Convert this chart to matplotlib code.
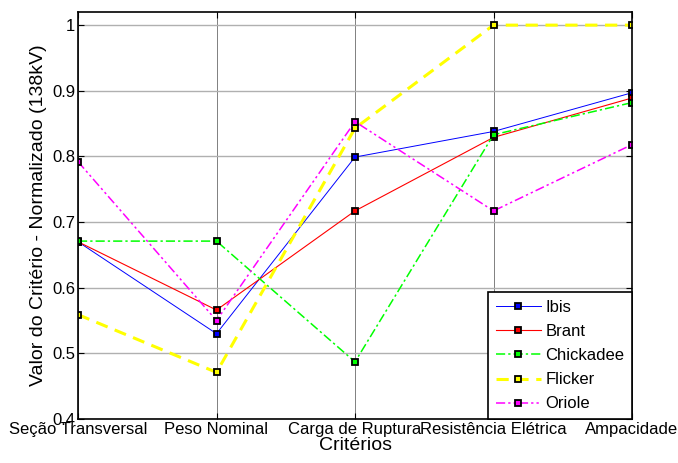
import numpy as np
import matplotlib
matplotlib.use('Agg')
import matplotlib.pyplot as plt

plt.rcParams['font.family'] = ['Liberation Sans', 'DejaVu Sans']

criterios = ['Seção Transversal', 'Peso Nominal', 'Carga de Ruptura',
             'Resistência Elétrica', 'Ampacidade']
ibis = [0.670, 0.530, 0.799, 0.838, 0.897]
brant = [0.670, 0.566, 0.717, 0.829, 0.889]
chickadee = [0.671, 0.671, 0.487, 0.833, 0.882]
flicker = [0.559, 0.471, 0.843, 1.000, 1.000]
oriole = [0.792, 0.550, 0.853, 0.717, 0.818]

x = np.arange(1, len(criterios) + 1)

fig = plt.figure(figsize=(6.78, 4.63), dpi=100)
ax = fig.add_axes([78 / 678, 1 - 419 / 463, (632 - 78) / 678, (419 - 12) / 463])

mk = dict(marker='s', markersize=5.0, markeredgecolor='black', markeredgewidth=1.3)
ax.plot(x, ibis, color='blue', lw=0.7, ls='-', markerfacecolor='blue', label='Ibis', **mk)
ax.plot(x, brant, color='red', lw=0.8, ls='-', markerfacecolor='red', label='Brant', **mk)
ax.plot(x, chickadee, color='#00ff00', lw=1.1, ls=(0, (6, 2, 1.5, 2)),
        markerfacecolor='#00ff00', label='Chickadee', **mk)
ax.plot(x, flicker, color='yellow', lw=2.2, ls=(0, (4, 2.5)),
        markerfacecolor='yellow', label='Flicker', **mk)
ax.plot(x, oriole, color='magenta', lw=1.1, ls=(0, (6, 2, 1.5, 2, 1.5, 2)),
        markerfacecolor='magenta', label='Oriole', **mk)

ax.set_xlim(1, 5)
ax.set_ylim(0.4, 1.02)
ax.set_xticks(x)
ax.set_xticklabels(criterios, fontsize=12)
ax.set_yticks([0.4, 0.5, 0.6, 0.7, 0.8, 0.9, 1.0])
ax.set_yticklabels(['0.4', '0.5', '0.6', '0.7', '0.8', '0.9', '1'], fontsize=12)
ax.tick_params(direction='in', length=4, top=True, right=True, pad=2)
ax.yaxis.grid(True, color='#b0b0b0', lw=1.0)
ax.xaxis.grid(True, color='#808080', lw=0.7)
ax.set_axisbelow(True)
for s in ax.spines.values():
    s.set_linewidth(1.2)

ax.set_xlabel('Critérios', fontsize=14, labelpad=0)
ax.set_ylabel('Valor do Critério - Normalizado (138kV)', fontsize=14, labelpad=4)

leg = ax.legend(loc='lower right', fontsize=12, fancybox=False, framealpha=1,
                edgecolor='black', borderaxespad=0, handlelength=2.7,
                handletextpad=0.3, labelspacing=0.55, borderpad=0.45)
leg.get_frame().set_linewidth(1.2)

fig.savefig('out.png', dpi=100)
